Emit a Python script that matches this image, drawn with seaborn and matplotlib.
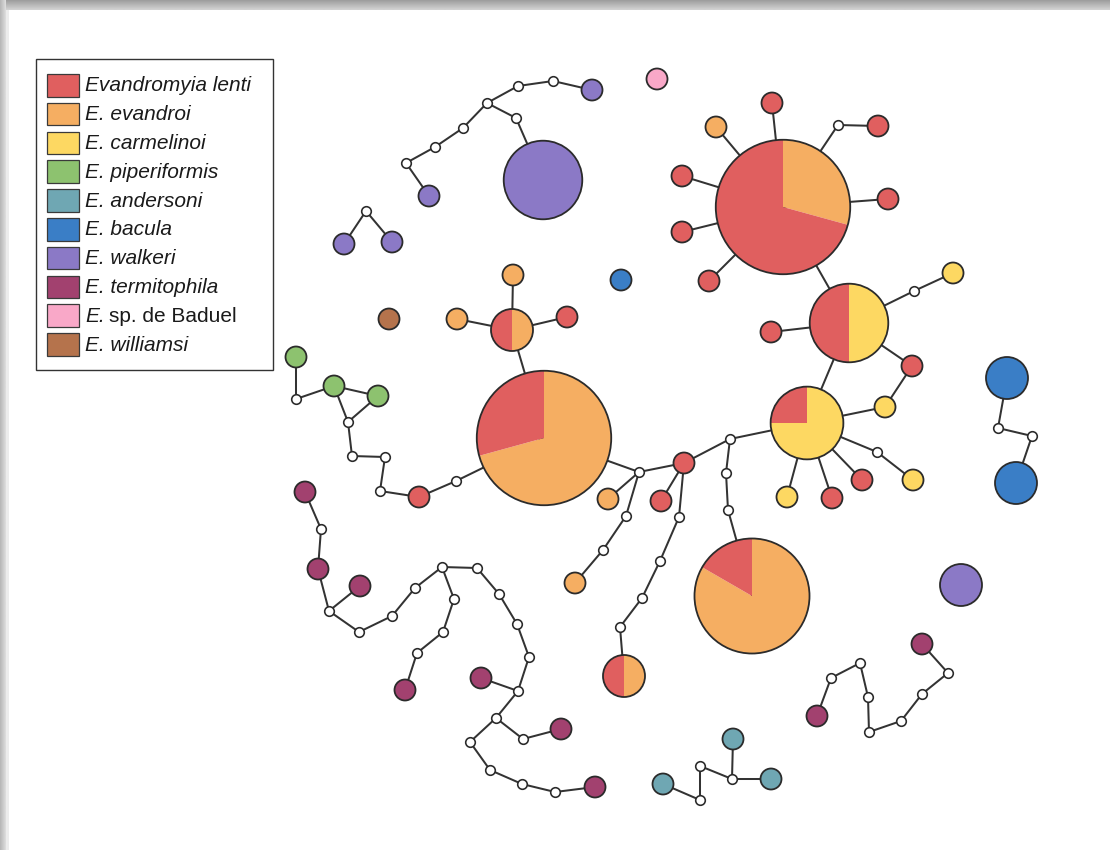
import matplotlib
matplotlib.use("Agg")
import numpy as np
import pandas as pd
import matplotlib.pyplot as plt
import seaborn as sns
from matplotlib.patches import Circle, Wedge, Rectangle

# ---------------------------------------------------------------- species
species = ["lenti", "evandroi", "carmelinoi", "piperiformis", "andersoni",
           "bacula", "walkeri", "termitophila", "baduel", "williamsi"]
# (italic part, upright part) of each legend label
species_labels = [("Evandromyia lenti", ""), ("E. evandroi", ""),
                  ("E. carmelinoi", ""), ("E. piperiformis", ""),
                  ("E. andersoni", ""), ("E. bacula", ""), ("E. walkeri", ""),
                  ("E. termitophila", ""), ("E.", "sp. de Baduel"),
                  ("E. williamsi", "")]
species_colors = ["#E05F5F", "#F5AE62", "#FDD862", "#8DC26F", "#6FA7B3",
                  "#3A7EC6", "#8B79C6", "#A2416F", "#F9A8C8", "#B5734C"]

# ------------------------------------------------ haplotypes (one species)
hap_name = ["H1", "H2", "H3", "H4", "H5", "H6", "H7", "H8", "H9", "H10",
            "H11", "H12", "H13", "H14", "H15", "H16", "H17", "H18", "H19", "H20",
            "H21", "H22", "H23", "H24", "H25", "H26", "H27", "H28", "H29", "H30",
            "H31", "H32", "H33", "H34", "H35", "H36", "H37", "H38", "H39", "H40",
            "H41", "H42", "H43", "H44", "H45", "H46", "H47", "H48", "H49"]
hap_species = ["walkeri", "walkeri", "walkeri", "walkeri", "walkeri", "baduel",
               "bacula", "williamsi", "evandroi", "evandroi",
               "lenti", "lenti", "evandroi", "lenti", "lenti", "lenti", "lenti",
               "lenti", "lenti", "carmelinoi",
               "lenti", "carmelinoi", "carmelinoi", "lenti", "lenti", "carmelinoi",
               "lenti", "lenti", "evandroi", "evandroi",
               "lenti", "piperiformis", "piperiformis", "piperiformis",
               "termitophila", "termitophila", "termitophila", "termitophila",
               "termitophila", "termitophila",
               "termitophila", "termitophila", "termitophila", "walkeri",
               "andersoni", "andersoni", "andersoni", "bacula", "bacula"]
hap_count = [1, 14, 1, 1, 1, 1, 1, 1, 1, 1,
             1, 1, 1, 1, 1, 1, 1, 1, 1, 1,
             1, 1, 1, 1, 1, 1, 1, 1, 1, 1,
             1, 1, 1, 1, 1, 1, 1, 1, 1, 1,
             1, 1, 1, 4, 1, 1, 1, 4, 4]
hap_x = [592, 543, 429, 344, 392, 657, 621, 389, 513, 457,
         567, 772, 716, 878, 888, 682, 682, 709, 771, 953,
         912, 885, 913, 862, 832, 787, 684, 661, 608, 575,
         419, 296, 334, 378, 305, 318, 360, 405, 481, 561,
         595, 817, 922, 961, 733, 771, 663, 1007, 1016]
hap_y = [90, 180, 196, 244, 242, 79, 280, 319, 275, 319,
         317, 103, 127, 126, 199, 176, 232, 281, 332, 273,
         366, 407, 480, 480, 498, 497, 463, 501, 499, 583,
         497, 357, 386, 396, 492, 569, 586, 690, 678, 729,
         787, 716, 644, 585, 739, 779, 784, 378, 483]

# ---------------------------------------------- shared haplotypes (pies)
pie_name = ["P1", "P2", "P3", "P4", "P5", "P6", "P7"]
pie_x = [783, 849, 807, 544, 752, 512, 624]
pie_y = [207, 323, 423, 438, 596, 330, 676]
pie_lenti = [29, 7, 3, 12, 5, 2, 2]
pie_other_species = ["evandroi", "carmelinoi", "carmelinoi", "evandroi",
                     "evandroi", "evandroi", "evandroi"]
pie_other = [12, 7, 9, 29, 25, 2, 2]

# ------------------------------------------------------- median vectors
mv_x = [553, 518, 487, 516, 463, 435, 406, 366,
        838, 914, 877, 730, 726, 728, 639, 626, 603, 679, 660, 642, 620,
        456, 380, 385, 352, 348, 296,
        321, 329, 359, 392, 415, 442, 477, 454, 443, 417, 499, 517, 529, 518,
        496, 523, 470, 490, 522, 555,
        831, 860, 868, 869, 901, 922, 948,
        700, 700, 732, 998, 1032]
mv_y = [81, 86, 103, 118, 128, 147, 163, 211,
        125, 291, 452, 439, 473, 510, 472, 516, 550, 517, 561, 598, 627,
        481, 491, 457, 456, 422, 399,
        529, 611, 632, 616, 588, 567, 568, 599, 632, 653, 594, 624, 657, 691,
        718, 739, 742, 770, 784, 792,
        678, 663, 697, 732, 721, 694, 673,
        800, 766, 779, 428, 436]
mv_name = [f"m{i + 1}" for i in range(len(mv_x))]

# ---------------------------------------------------------------- links
links = [
    ("H1", "m1"), ("m1", "m2"), ("m2", "m3"), ("m3", "m4"), ("m4", "H2"),
    ("m3", "m5"), ("m5", "m6"), ("m6", "m7"), ("m7", "H3"),
    ("m8", "H4"), ("m8", "H5"),
    ("P1", "H12"), ("P1", "H13"), ("P1", "m9"), ("m9", "H14"), ("P1", "H15"),
    ("P1", "H16"), ("P1", "H17"), ("P1", "H18"), ("P1", "P2"),
    ("P2", "H19"), ("P2", "m10"), ("m10", "H20"), ("P2", "H21"),
    ("H21", "H22"), ("H22", "P3"), ("P2", "P3"),
    ("P3", "H26"), ("P3", "H25"), ("P3", "H24"), ("P3", "m11"), ("m11", "H23"),
    ("P3", "m12"), ("m12", "H27"), ("m12", "m13"), ("m13", "m14"), ("m14", "P5"),
    ("H27", "m15"), ("H27", "H28"), ("H27", "m18"), ("m18", "m19"),
    ("m19", "m20"), ("m20", "m21"), ("m21", "P7"),
    ("m15", "P4"), ("m15", "H29"), ("m15", "m16"), ("m16", "m17"), ("m17", "H30"),
    ("P4", "P6"), ("P6", "H9"), ("P6", "H10"), ("P6", "H11"),
    ("P4", "m22"), ("m22", "H31"), ("H31", "m23"), ("m23", "m24"),
    ("m24", "m25"), ("m25", "m26"), ("m26", "H33"), ("m26", "H34"),
    ("H33", "H34"), ("H33", "m27"), ("m27", "H32"),
    ("H35", "m28"), ("m28", "H36"), ("H36", "m29"), ("m29", "H37"),
    ("m29", "m30"), ("m30", "m31"), ("m31", "m32"), ("m32", "m33"),
    ("m33", "m34"), ("m33", "m35"), ("m35", "m36"), ("m36", "m37"), ("m37", "H38"),
    ("m34", "m38"), ("m38", "m39"), ("m39", "m40"), ("m40", "m41"),
    ("m41", "H39"), ("m41", "m42"), ("m42", "m43"), ("m43", "H40"),
    ("m42", "m44"), ("m44", "m45"), ("m45", "m46"), ("m46", "m47"), ("m47", "H41"),
    ("H42", "m48"), ("m48", "m49"), ("m49", "m50"), ("m50", "m51"),
    ("m51", "m52"), ("m52", "m53"), ("m53", "m54"), ("m54", "H43"),
    ("H47", "m55"), ("m55", "m56"), ("m56", "m57"), ("m57", "H45"), ("m57", "H46"),
    ("H48", "m58"), ("m58", "m59"), ("m59", "H49"),
]

# ------------------------------------------------------------- styling
W, H, DPI = 1110, 850, 100
UNIT_R = 10.5          # radius of a single-sample haplotype, px
MV_R = 4.8             # radius of a median vector, px
OUTLINE = "#2b2b2b"
LW = 1.3


def radius(n):
    return UNIT_R * np.sqrt(n)


def marker_area(r):
    # scatter marker area (pt^2) for a circle of radius r pixels
    return (2 * r * 72.0 / DPI) ** 2


sns.set_theme(style="white")
plt.rcParams["font.family"] = ["Liberation Sans", "DejaVu Sans"]

fig = plt.figure(figsize=(W / DPI, H / DPI), dpi=DPI)
ax = fig.add_axes([0, 0, 1, 1])
ax.set_axis_off()
ax.set_xlim(0, W)
ax.set_ylim(H, 0)

color_of = dict(zip(species, species_colors))

# node lookup for the links
pos = {}
for n, x, y in zip(hap_name, hap_x, hap_y):
    pos[n] = (x, y)
for n, x, y in zip(pie_name, pie_x, pie_y):
    pos[n] = (x, y)
for n, x, y in zip(mv_name, mv_x, mv_y):
    pos[n] = (x, y)

# links
rows = []
for k, (a, b) in enumerate(links):
    rows.append({"link": k, "x": pos[a][0], "y": pos[a][1]})
    rows.append({"link": k, "x": pos[b][0], "y": pos[b][1]})
link_df = pd.DataFrame(rows)
sns.lineplot(data=link_df, x="x", y="y", units="link", estimator=None,
             sort=False, color="#333333", linewidth=1.45, zorder=1, ax=ax,
             legend=False)

# single-species haplotypes
hap_df = pd.DataFrame({"x": hap_x, "y": hap_y, "species": hap_species,
                       "r": [radius(c) for c in hap_count]})
sns.scatterplot(data=hap_df, x="x", y="y", hue="species", hue_order=species,
                palette=color_of, size="r",
                sizes={r: marker_area(r) for r in hap_df["r"].unique()},
                edgecolor=OUTLINE, linewidth=LW, zorder=3, legend=False, ax=ax)

# median vectors
mv_df = pd.DataFrame({"x": mv_x, "y": mv_y})
sns.scatterplot(data=mv_df, x="x", y="y", s=marker_area(MV_R), color="white",
                edgecolor=OUTLINE, linewidth=LW * 0.9, zorder=3, legend=False,
                ax=ax)

# shared haplotypes as pies, clockwise from the top
for x, y, nl, other_sp, no in zip(pie_x, pie_y, pie_lenti,
                                  pie_other_species, pie_other):
    r = radius(nl + no)
    frac_other = no / (nl + no)
    # y grows downwards, so increasing data angle runs clockwise on screen
    a0 = -90.0
    a1 = a0 + 360.0 * frac_other
    ax.add_patch(Wedge((x, y), r, a0, a1, facecolor=color_of[other_sp],
                       edgecolor="none", zorder=3))
    ax.add_patch(Wedge((x, y), r, a1, a0 + 360.0, facecolor=color_of["lenti"],
                       edgecolor="none", zorder=3))
    ax.add_patch(Circle((x, y), r, facecolor="none", edgecolor=OUTLINE,
                        linewidth=LW, zorder=4))

# legend
lx0, ly0, lx1, ly1 = 36, 59, 273, 370
ax.add_patch(Rectangle((lx0, ly0), lx1 - lx0, ly1 - ly0, facecolor="white",
                       edgecolor="#333333", linewidth=1.0, zorder=5))
row_h = 28.8
renderer = fig.canvas.get_renderer()
for i, ((it_txt, up_txt), col) in enumerate(zip(species_labels, species_colors)):
    cy = 85.3 + i * row_h
    ax.add_patch(Rectangle((47, cy - 11.3), 32, 22.6, facecolor=col,
                           edgecolor="#3a3a3a", linewidth=0.9, zorder=6))
    t = ax.text(85, cy + 0.5, it_txt, fontsize=15, style="italic",
                color="#1a1a1a", va="center", ha="left", zorder=6)
    if up_txt:
        bb = t.get_window_extent(renderer=renderer)
        x_next = ax.transData.inverted().transform((bb.x1, bb.y0))[0] + 4.5
        ax.text(x_next, cy + 0.5, up_txt, fontsize=15, color="#1a1a1a",
                va="center", ha="left", zorder=6)

# page frame: shaded strip along the top and left edge
top = np.linspace(0.62, 0.82, 10)[:, None] * np.ones((1, 2))
ax.imshow(top, cmap="gray", vmin=0, vmax=1, extent=(0, W, 10, 0),
          aspect="auto", zorder=0, interpolation="bilinear")
left = np.linspace(0.72, 0.86, 6)[None, :] * np.ones((2, 1))
ax.imshow(left, cmap="gray", vmin=0, vmax=1, extent=(0, 6, H, 0),
          aspect="auto", zorder=0, interpolation="bilinear")
ax.add_patch(Rectangle((6, 10), 3, H - 10, facecolor="#ececec",
                       edgecolor="none", zorder=0))

ax.set_xlim(0, W)
ax.set_ylim(H, 0)
fig.savefig("out.png", dpi=DPI, facecolor="white")
